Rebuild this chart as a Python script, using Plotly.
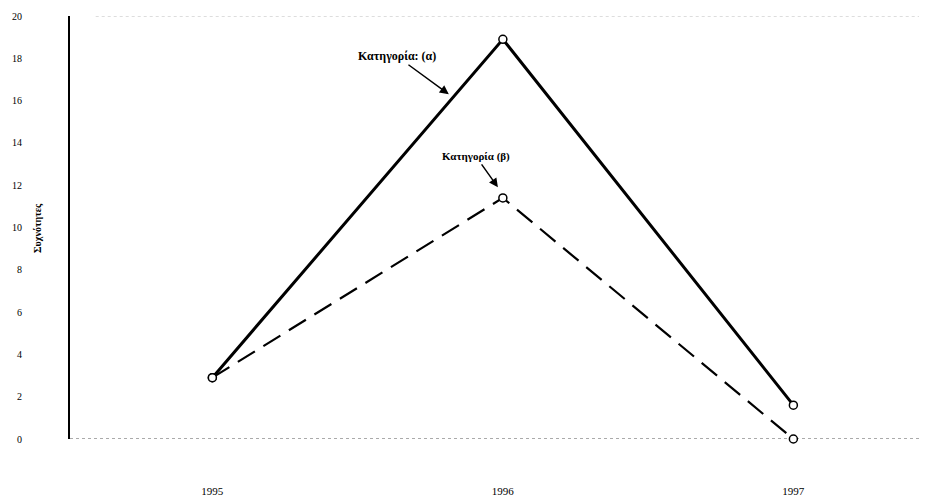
import plotly.graph_objects as go

years = ["1995", "1996", "1997"]
x_pos = [0, 1, 2]
cat_a = [2.9, 18.9, 1.6]
cat_b = [2.9, 11.4, 0.0]
y_ticks = [0, 2, 4, 6, 8, 10, 12, 14, 16, 18, 20]

FONT = "Liberation Serif"

fig = go.Figure()
fig.add_trace(go.Scatter(
    x=x_pos, y=cat_a, mode="lines+markers",
    line=dict(color="black", width=3),
    marker=dict(symbol="circle", size=8, color="white", line=dict(color="black", width=1.5)),
    cliponaxis=False, showlegend=False))
fig.add_trace(go.Scatter(
    x=x_pos, y=cat_b, mode="lines+markers",
    line=dict(color="black", width=2.2, dash="20px,10px"),
    marker=dict(symbol="circle", size=8, color="white", line=dict(color="black", width=1.5)),
    cliponaxis=False, showlegend=False))

# dotted frame lines (x-axis baseline and top)
fig.add_shape(type="line", xref="paper", yref="y", x0=0, x1=1, y0=0, y1=0,
              line=dict(color="#555", width=1, dash="dot"), layer="below")
fig.add_shape(type="line", xref="paper", yref="y", x0=0.03, x1=1, y0=20, y1=20,
              line=dict(color="#bbb", width=1, dash="dot"), layer="below")

fig.add_annotation(x=0.814, y=16.3, xref="x", yref="y",
                   text="<b>Κατηγορία: (α)</b>", showarrow=True,
                   arrowhead=2, arrowsize=1.2, arrowwidth=1.5, arrowcolor="black",
                   ax=-52, ay=-38, font=dict(family=FONT, size=12, color="black"))
fig.add_annotation(x=0.983, y=11.9, xref="x", yref="y",
                   text="<b>Κατηγορία (β)</b>", showarrow=True,
                   arrowhead=2, arrowsize=1.2, arrowwidth=1.5, arrowcolor="black",
                   ax=-22, ay=-31, font=dict(family=FONT, size=11, color="black"))
fig.add_annotation(x=-0.038, y=0.5, xref="paper", yref="paper",
                   xanchor="center", yanchor="middle",
                   text="<b>Συχνότητες</b>", textangle=-90, showarrow=False,
                   font=dict(family=FONT, size=10, color="black"))

fig.update_layout(
    width=919, height=493,
    margin=dict(l=62, r=0, t=8, b=62),
    paper_bgcolor="white", plot_bgcolor="white",
    font=dict(family=FONT, color="black"),
    xaxis=dict(range=[-0.49, 2.46], tickvals=x_pos, ticktext=years,
               showgrid=False, zeroline=False, showline=False,
               ticks="", ticklabelstandoff=44,
               tickfont=dict(family=FONT, size=11, color="black"),
               fixedrange=True),
    yaxis=dict(range=[0, 20], tickvals=y_ticks,
               showgrid=False, zeroline=False, showline=True,
               linecolor="black", linewidth=2,
               ticks="", ticklabelstandoff=44,
               tickfont=dict(family=FONT, size=10, color="black"),
               fixedrange=True),
)

fig.write_html("out.html")
